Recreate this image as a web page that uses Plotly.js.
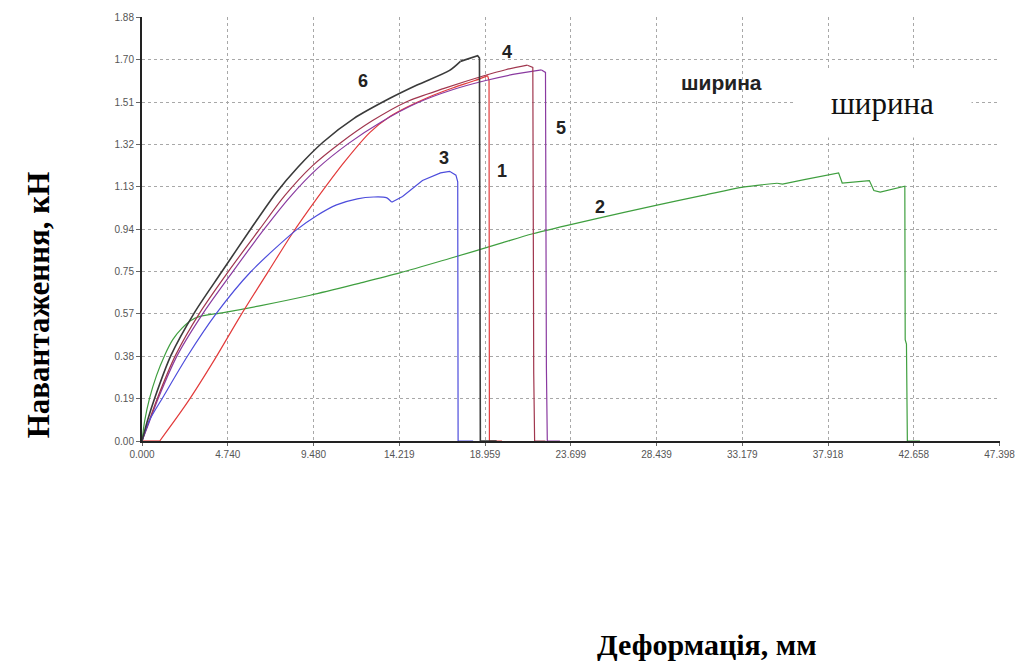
<!DOCTYPE html>
<html>
<head>
<meta charset="utf-8">
<script src="https://cdn.plot.ly/plotly-3.0.1.min.js"></script>
<style>html,body{margin:0;padding:0;background:#fff;}#chart{width:1020px;height:661px;}</style>
</head>
<body>
<div id="chart"></div>
<script>
// Tick values and labels
const xTickVals = [0, 4.7398, 9.4796, 14.2194, 18.9592, 23.699, 28.4388, 33.1786, 37.9184, 42.6582, 47.398];
const xTickText = ["0.000", "4.740", "9.480", "14.219", "18.959", "23.699", "28.439", "33.179", "37.918", "42.658", "47.398"];
const yTickVals = [0, 0.188, 0.376, 0.564, 0.752, 0.94, 1.128, 1.316, 1.504, 1.692, 1.88];
const yTickText = ["0.00", "0.19", "0.38", "0.57", "0.75", "0.94", "1.13", "1.32", "1.51", "1.70", "1.88"];

// Curve 1 (red): loading part and failure part
const fail1x = [0, 0.98];
const fail1y = [0, 0];
const load1x = [0.98, 2.5, 4.0, 5.4, 7.0, 8.3, 9.7, 11.2, 12.6, 13.7, 14.6, 15.8, 17.2, 18.4, 19.1];
const load1y = [0, 0.17, 0.36, 0.55, 0.755, 0.92, 1.08, 1.24, 1.37, 1.44, 1.48, 1.525, 1.568, 1.60, 1.622];
const drop1x = [19.1, 19.18, 19.2, 19.9];
const drop1y = [1.622, 1.6, 0, 0];

// Curve 2 (green)
const load2x = [0, 0.15, 0.42, 0.8, 1.25, 1.7, 2.2, 2.7, 3.2, 4.5, 6.5, 9.3, 12.0, 14.25, 17.0, 19.8, 21.6, 25.0, 28.4, 31.0, 33.2, 35.1];
const load2y = [0, 0.09, 0.19, 0.29, 0.38, 0.45, 0.50, 0.535, 0.553, 0.57, 0.60, 0.647, 0.70, 0.746, 0.81, 0.877, 0.92, 0.985, 1.046, 1.09, 1.127, 1.144];
const drop2x = [35.1, 35.4, 36.6, 38.2, 38.5, 38.7, 40.2, 40.45, 40.8, 42.16, 42.18, 42.25, 42.3, 43.0];
const drop2y = [1.144, 1.14, 1.16, 1.186, 1.19, 1.145, 1.156, 1.112, 1.105, 1.131, 0.45, 0.43, 0, 0];

// Curve 3 (blue)
const load3x = [0, 0.4, 1.2, 2.5, 4.1, 6.0, 8.5, 9.65, 10.75, 11.9, 12.8, 13.5, 13.8];
const load3y = [0, 0.09, 0.2, 0.375, 0.565, 0.75, 0.935, 1.0, 1.048, 1.075, 1.083, 1.08, 1.06];
const drop3x = [13.8, 14.4, 15.5, 16.5, 17.0, 17.35, 17.45, 17.47, 18.3];
const drop3y = [1.06, 1.085, 1.156, 1.19, 1.197, 1.18, 1.15, 0, 0];

// Curve 4 (dark red)
const load4x = [0, 0.35, 0.85, 1.85, 3.2, 4.75, 6.5, 7.9, 9.4, 11.0, 12.7, 14.6, 16.7, 18.85, 20.1, 21.3];
const load4y = [0, 0.08, 0.19, 0.38, 0.57, 0.75, 0.94, 1.09, 1.22, 1.325, 1.42, 1.505, 1.565, 1.62, 1.648, 1.668];
const drop4x = [21.3, 21.6, 21.65, 21.7, 22.3];
const drop4y = [1.668, 1.658, 0.3, 0, 0];

// Curve 5 (purple)
const load5x = [0, 0.38, 0.9, 1.95, 3.4, 5.0, 6.75, 8.2, 9.7, 11.4, 13.2, 15.2, 17.2, 19.0, 20.5, 22.08];
const load5y = [0, 0.08, 0.19, 0.38, 0.57, 0.75, 0.94, 1.085, 1.21, 1.32, 1.415, 1.50, 1.56, 1.60, 1.627, 1.647];
const drop5x = [22.08, 22.3, 22.35, 22.4, 23.1];
const drop5y = [1.647, 1.636, 0.33, 0, 0];

// Curve 6 (black)
const load6x = [0, 0.3, 0.7, 1.6, 2.9, 4.4, 6.0, 7.4, 8.6, 10.0, 11.7, 13.7, 15.2, 17.0, 17.6];
const load6y = [0, 0.09, 0.19, 0.38, 0.57, 0.75, 0.94, 1.10, 1.214, 1.326, 1.431, 1.521, 1.58, 1.645, 1.685];
const drop6x = [17.6, 18.55, 18.65, 18.7, 19.6];
const drop6y = [1.685, 1.71, 1.70, 0, 0];

const C = {c1: '#e23a3a', c2: '#3f9f3f', c3: '#4d4ddc', c4: '#a0364e', c5: '#8a3aa0', c6: '#3a3a3a'};

const parts = [
  [load2x, load2y, C.c2, 1.2, 'spline'], [drop2x, drop2y, C.c2, 1.2, 'linear'],
  [fail1x, fail1y, C.c1, 1.2, 'linear'], [load1x, load1y, C.c1, 1.2, 'spline'], [drop1x, drop1y, C.c1, 1.2, 'linear'],
  [load5x, load5y, C.c5, 1.2, 'spline'], [drop5x, drop5y, C.c5, 1.2, 'linear'],
  [load4x, load4y, C.c4, 1.2, 'spline'], [drop4x, drop4y, C.c4, 1.2, 'linear'],
  [load3x, load3y, C.c3, 1.2, 'spline'], [drop3x, drop3y, C.c3, 1.2, 'linear'],
  [load6x, load6y, C.c6, 1.6, 'spline'], [drop6x, drop6y, C.c6, 1.6, 'linear']
];

const traces = parts.map(p => ({
  x: p[0], y: p[1], type: 'scatter', mode: 'lines',
  line: {color: p[2], width: p[3], shape: p[4], smoothing: 0.8},
  hoverinfo: 'skip', showlegend: false
}));

const numFont = {family: 'Liberation Sans, Arial, sans-serif', size: 18, color: '#222'};
function lbl(t, x, y) {
  return {text: '<b>' + t + '</b>', x: x, y: y, xref: 'x', yref: 'y', showarrow: false, font: numFont};
}

const layout = {
  width: 1020, height: 661,
  margin: {l: 142, r: 20, t: 17, b: 220},
  paper_bgcolor: '#ffffff', plot_bgcolor: '#ffffff',
  showlegend: false,
  xaxis: {
    range: [0, 47.42], tickmode: 'array', tickvals: xTickVals, ticktext: xTickText,
    showgrid: true, gridcolor: '#a8a8a8', griddash: 'dot', gridwidth: 1,
    zeroline: false, showline: true, linecolor: '#222', linewidth: 2,
    ticks: 'outside', ticklen: 3, tickcolor: '#666',
    tickfont: {family: 'Liberation Sans, Arial, sans-serif', size: 10, color: '#555'}
  },
  yaxis: {
    range: [0, 1.882], tickmode: 'array', tickvals: yTickVals, ticktext: yTickText,
    showgrid: true, gridcolor: '#a8a8a8', griddash: 'dot', gridwidth: 1,
    zeroline: false, showline: true, linecolor: '#222', linewidth: 2,
    ticks: 'outside', ticklen: 4, tickcolor: '#666',
    tickfont: {family: 'Liberation Sans, Arial, sans-serif', size: 10, color: '#555'}
  },
  annotations: [
    lbl('6', 12.2, 1.60), lbl('4', 20.15, 1.728), lbl('3', 16.69, 1.254),
    lbl('1', 19.88, 1.20), lbl('5', 23.15, 1.39), lbl('2', 25.3, 1.037),
    {text: '<b>ширина</b>', x: 32.05, y: 1.59, xref: 'x', yref: 'y', showarrow: false,
     font: {family: 'Liberation Sans, Arial, sans-serif', size: 21, color: '#222'}},
    {text: 'ширина', x: 40.95, y: 1.50, xref: 'x', yref: 'y', showarrow: false,
     bgcolor: '#ffffff', width: 175, height: 65,
     font: {family: 'Liberation Serif, Times New Roman, serif', size: 31, color: '#111'}},
    {text: '<b>Навантаження, кН</b>', x: -0.1212, y: 0.32, xref: 'paper', yref: 'paper',
     textangle: -90, showarrow: false, xanchor: 'center', yanchor: 'middle',
     font: {family: 'Liberation Serif, Times New Roman, serif', size: 31, color: '#000'}},
    {text: '<b>Деформація, мм</b>', x: 0.6585, y: -0.481, xref: 'paper', yref: 'paper',
     showarrow: false, xanchor: 'center', yanchor: 'middle',
     font: {family: 'Liberation Serif, Times New Roman, serif', size: 30, color: '#000'}}
  ]
};

Plotly.newPlot('chart', traces, layout, {staticPlot: true, displayModeBar: false});
</script>
</body>
</html>
